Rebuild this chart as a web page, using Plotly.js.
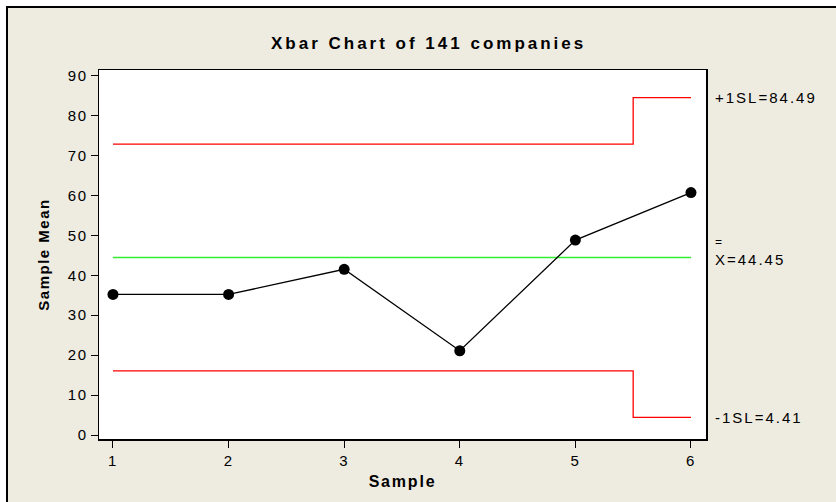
<!DOCTYPE html>
<html><head><meta charset="utf-8">
<script src="https://cdn.plot.ly/plotly-3.0.1.min.js"></script>
<style>
html,body{margin:0;padding:0;background:#fff;width:836px;height:502px;overflow:hidden}
#chart{position:absolute;left:6px;top:6px;width:828px;height:494px;border-top:2px solid #000;border-left:2px solid #000}
.gtitle{letter-spacing:3px}
.xtick text,.ytick text{letter-spacing:1.5px}
.xtitle{letter-spacing:1.8px}
.ytitle{letter-spacing:1.5px}
.annotation-text{letter-spacing:2px}
</style></head>
<body><div id="chart"></div>
<script>
var samples = [1, 2, 3, 4, 5, 6];
var sampleMeans = [35.2, 35.2, 41.5, 21.1, 48.8, 60.7];
var upperLimit = [72.85, 72.85, 72.85, 72.85, 72.85, 84.49];
var lowerLimit = [16.05, 16.05, 16.05, 16.05, 16.05, 4.41];
var centerLine = [44.45, 44.45, 44.45, 44.45, 44.45, 44.45];
var labelUpper = "+1SL=84.49";
var labelCenter = "X=44.45";
var labelLower = "-1SL=4.41";
var yTicks = [0, 10, 20, 30, 40, 50, 60, 70, 80, 90];

var last = samples.length - 1;
var traces = [
  {x: samples, y: upperLimit, mode: 'lines', line: {color: '#ff0000', width: 1.3, shape: 'hvh'}, hoverinfo: 'skip'},
  {x: samples, y: lowerLimit, mode: 'lines', line: {color: '#ff0000', width: 1.3, shape: 'hvh'}, hoverinfo: 'skip'},
  {x: samples, y: centerLine, mode: 'lines', line: {color: '#33ee33', width: 1.7}, hoverinfo: 'skip'},
  {x: samples, y: sampleMeans, mode: 'lines+markers', line: {color: '#000', width: 1.3},
   marker: {color: '#000', size: 11}}
];
var lblFont = {family: 'Liberation Sans, Arial, sans-serif', size: 15, color: '#000'};
var layout = {
  width: 828, height: 494,
  margin: {l: 91, r: 130, t: 62, b: 63},
  paper_bgcolor: '#eeebe1', plot_bgcolor: '#ffffff',
  showlegend: false,
  font: {family: 'Liberation Sans, Arial, sans-serif', color: '#000'},
  title: {text: 'Xbar Chart of 141 companies', xref: 'container', x: 0.508, xanchor: 'center',
          yref: 'container', y: 0.930, yanchor: 'middle',
          font: {family: 'Liberation Sans, Arial, sans-serif', size: 17, weight: 'bold', color: '#000'}},
  xaxis: {range: [0.879, 6.13], tickvals: samples, ticks: 'outside', ticklen: 7, tickcolor: '#000',
          showline: true, linecolor: '#000', linewidth: 1.5, mirror: true, showgrid: false, zeroline: false,
          tickfont: {size: 15},
          title: {text: 'Sample', standoff: 8, font: {size: 16, weight: 'bold'}}},
  yaxis: {range: [-1, 91.4], tickvals: yTicks, ticks: 'outside', ticklen: 7, tickcolor: '#000',
          showline: true, linecolor: '#000', linewidth: 1.5, mirror: true, showgrid: false, zeroline: false,
          tickfont: {size: 15},
          title: {text: 'Sample Mean', standoff: 14, font: {size: 15, weight: 'bold'}}},
  annotations: [
    {xref: 'paper', x: 1.0115, xanchor: 'left', yref: 'y', y: upperLimit[last], yanchor: 'middle',
     text: labelUpper, showarrow: false, font: lblFont},
    {xref: 'paper', x: 1.0115, xanchor: 'left', yref: 'y', y: centerLine[last], yanchor: 'middle', yshift: -2,
     text: labelCenter, showarrow: false, font: lblFont},
    {xref: 'paper', x: 1.0115, xanchor: 'left', yref: 'y', y: centerLine[last], yanchor: 'middle', yshift: 16,
     text: '=', showarrow: false, font: {family: 'Liberation Sans, Arial, sans-serif', size: 12, color: '#000'}},
    {xref: 'paper', x: 1.0115, xanchor: 'left', yref: 'y', y: lowerLimit[last], yanchor: 'middle',
     text: labelLower, showarrow: false, font: lblFont}
  ]
};
Plotly.newPlot('chart', traces, layout, {staticPlot: true});
</script></body></html>
